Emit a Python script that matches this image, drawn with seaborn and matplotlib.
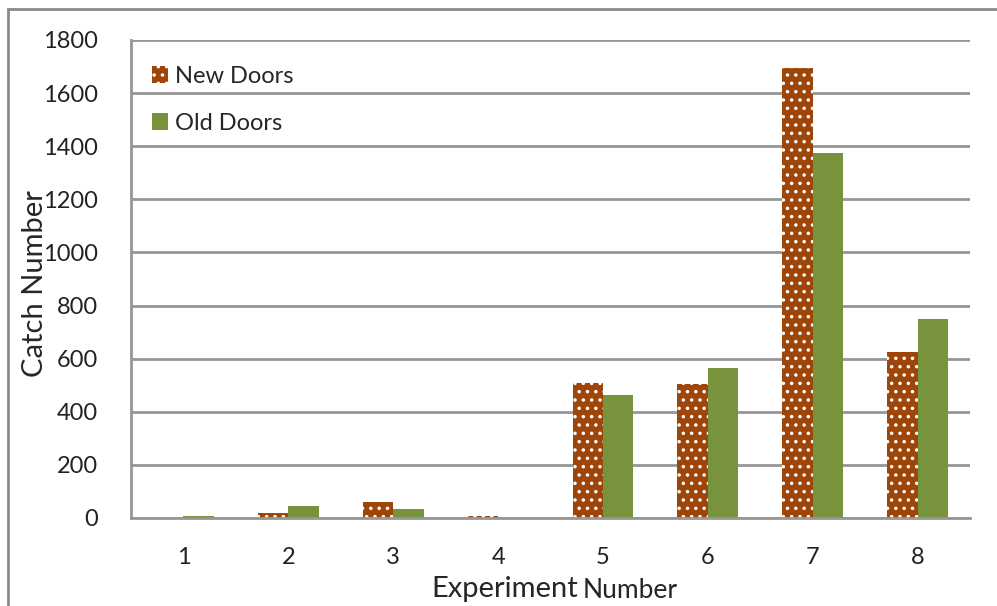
import matplotlib
matplotlib.use("Agg")
import matplotlib.pyplot as plt
import seaborn as sns
import pandas as pd
from matplotlib.patches import Rectangle, Patch

experiments = ["1", "2", "3", "4", "5", "6", "7", "8"]
new_doors = [0, 20, 60, 8, 510, 505, 1695, 625]
old_doors = [8, 45, 35, 0, 465, 565, 1375, 750]
series_names = ["New Doors", "Old Doors"]
y_ticks = [0, 200, 400, 600, 800, 1000, 1200, 1400, 1600, 1800]

BROWN = "#9E460A"
GREEN = "#77933C"
GRID = "#969696"

df = pd.DataFrame({
    "Experiment": experiments * 2,
    "Catch": new_doors + old_doors,
    "Doors": [series_names[0]] * len(experiments) + [series_names[1]] * len(experiments),
})

sns.set_style("white")
plt.rcParams["font.family"] = ["Lato", "DejaVu Sans"]
plt.rcParams["hatch.linewidth"] = 1.3

W, H = 997, 606
fig = plt.figure(figsize=(W / 100, H / 100), dpi=100)
ax = fig.add_axes([131 / W, 1 - 518 / H, (970 - 131) / W, (518 - 40) / H])

sns.barplot(data=df, x="Experiment", y="Catch", hue="Doors", order=experiments,
            hue_order=series_names, palette=[BROWN, GREEN], width=0.58,
            saturation=1, ax=ax, legend=False, zorder=3)

n = len(experiments)
for bar in ax.patches[:n]:
    bar.set_hatch("..")
    bar.set_edgecolor("white")
    bar.set_linewidth(0)
for bar in ax.patches[n:2 * n]:
    bar.set_edgecolor(GREEN)
    bar.set_linewidth(0)

ax.set_ylim(0, 1800)
ax.set_yticks(y_ticks)
ax.set_yticklabels([str(v) for v in y_ticks], fontsize=17, color="#222222")
ax.set_xlim(-0.5, n - 0.5)
ax.set_xticks(range(n))
ax.set_xticklabels(experiments, fontsize=17, color="#222222")
ax.tick_params(axis="x", length=0, pad=21)
ax.set_xticks([i - 0.5 for i in range(n + 1)], minor=True)
ax.tick_params(axis="x", which="minor", length=7, width=2, color=GRID, direction="out")
ax.tick_params(axis="y", length=6, width=2, color=GRID, direction="out", pad=18)

ax.yaxis.grid(True, color=GRID, linewidth=2)
ax.set_axisbelow(True)
for side in ["top", "right"]:
    ax.spines[side].set_visible(False)
for side in ["left", "bottom"]:
    ax.spines[side].set_color(GRID)
    ax.spines[side].set_linewidth(2)
    ax.spines[side].set_zorder(4)

ax.set_ylabel("Catch Number", fontsize=21, va="center")
ax.yaxis.set_label_coords((35 - 131) / 839, 0.49)
ax.set_xlabel("")
fig.text(578 / W, 1 - 589 / H, "Experiment", fontsize=21, ha="right", va="center")
fig.text(583 / W, 1 - 591 / H, "Number", fontsize=19, ha="left", va="center")

handles = [Patch(facecolor=BROWN, hatch="..", edgecolor="white", linewidth=0),
           Patch(facecolor=GREEN, linewidth=0)]
ax.legend(handles, series_names, loc="upper left", bbox_to_anchor=(0.0, 0.99),
          frameon=False, fontsize=17, labelspacing=1.1, handlelength=0.65,
          handleheight=0.75, handletextpad=0.3)

fig.patches.append(Rectangle((8 / W, -0.05), 1.2, 1 - 9 / H + 0.05, transform=fig.transFigure,
                             fill=False, edgecolor="#8a8a8a", linewidth=2))

fig.savefig("out.png", dpi=100, facecolor="white")
